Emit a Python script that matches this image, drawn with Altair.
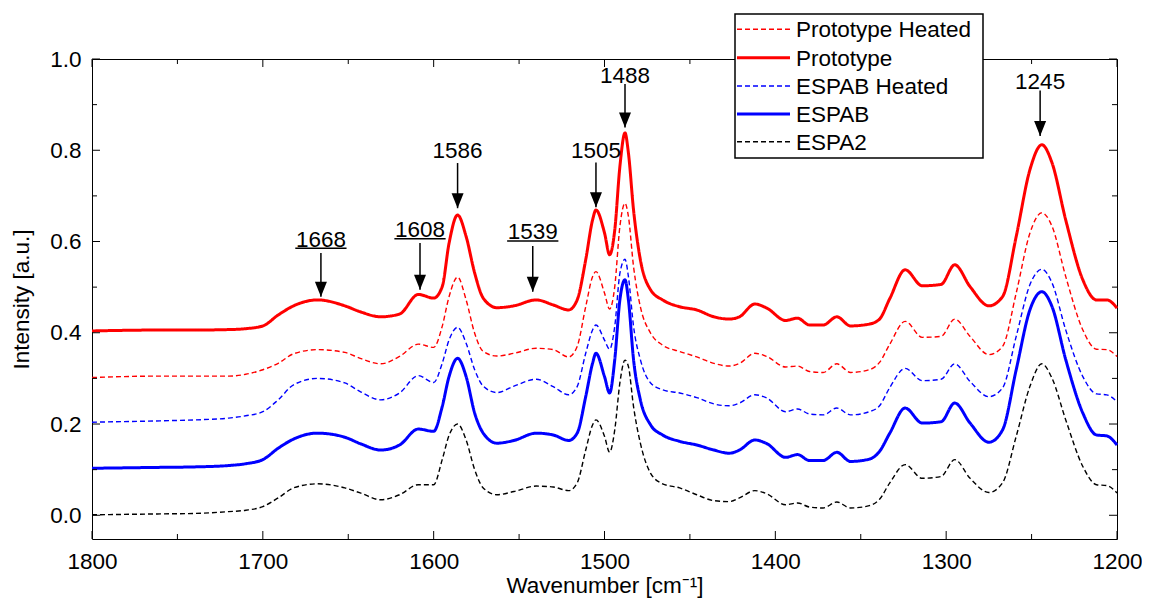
import altair as alt
import pandas as pd

# ---------------- data ----------------
wavenumber = [1800, 1760, 1740, 1720, 1710, 1700, 1691, 1682, 1668, 1652, 1643, 1631, 1620, 1609, 1600, 1595,
              1591, 1586, 1581, 1576, 1571, 1563, 1553, 1540, 1530, 1521,
              1516, 1511, 1507, 1505, 1500, 1497, 1494, 1491, 1488, 1486,
              1483, 1479, 1473, 1466, 1456, 1446, 1436, 1427, 1421, 1412,
              1405, 1394, 1387, 1380, 1372, 1364, 1356, 1345, 1339, 1333,
              1324, 1314, 1303, 1295, 1286, 1275, 1267, 1259, 1251, 1244,
              1238, 1230, 1220, 1212, 1206, 1200]

prototype_heated = [0.302, 0.305, 0.305, 0.305, 0.309, 0.319, 0.333, 0.354, 0.363, 0.357, 0.344, 0.332, 0.348, 0.375, 0.368, 0.414,
                    0.479, 0.522, 0.472, 0.399, 0.359, 0.349, 0.355, 0.366, 0.363, 0.347,
                    0.370, 0.457, 0.523, 0.534, 0.487, 0.452, 0.501, 0.633, 0.684, 0.655,
                    0.545, 0.457, 0.399, 0.373, 0.359, 0.347, 0.333, 0.327, 0.333, 0.355,
                    0.348, 0.325, 0.327, 0.315, 0.313, 0.332, 0.313, 0.319, 0.335, 0.375,
                    0.425, 0.390, 0.392, 0.430, 0.392, 0.352, 0.370, 0.487, 0.618, 0.663,
                    0.633, 0.523, 0.406, 0.364, 0.363, 0.348]

prototype = [0.404, 0.406, 0.406, 0.407, 0.409, 0.415, 0.439, 0.459, 0.472, 0.459, 0.446, 0.435, 0.441, 0.484, 0.476, 0.501,
             0.596, 0.658, 0.611, 0.531, 0.476, 0.455, 0.459, 0.472, 0.461, 0.450,
             0.472, 0.560, 0.647, 0.669, 0.619, 0.571, 0.625, 0.764, 0.838, 0.794,
             0.669, 0.560, 0.494, 0.472, 0.457, 0.450, 0.435, 0.430, 0.435, 0.463,
             0.454, 0.427, 0.432, 0.417, 0.417, 0.435, 0.415, 0.419, 0.430, 0.475,
             0.538, 0.503, 0.506, 0.549, 0.501, 0.459, 0.479, 0.611, 0.757, 0.812,
             0.772, 0.647, 0.516, 0.472, 0.472, 0.454]

espab_heated = [0.204, 0.207, 0.209, 0.213, 0.218, 0.227, 0.253, 0.286, 0.300, 0.290, 0.271, 0.253, 0.268, 0.306, 0.291, 0.333,
                0.384, 0.412, 0.377, 0.319, 0.283, 0.269, 0.283, 0.298, 0.282, 0.264,
                0.282, 0.355, 0.406, 0.417, 0.384, 0.364, 0.414, 0.530, 0.561, 0.523,
                0.414, 0.341, 0.290, 0.275, 0.268, 0.258, 0.244, 0.240, 0.246, 0.264,
                0.257, 0.227, 0.233, 0.222, 0.220, 0.235, 0.220, 0.227, 0.240, 0.280,
                0.322, 0.295, 0.298, 0.332, 0.293, 0.260, 0.279, 0.392, 0.505, 0.539,
                0.509, 0.406, 0.304, 0.266, 0.264, 0.249]

espab = [0.103, 0.105, 0.106, 0.109, 0.113, 0.122, 0.147, 0.167, 0.180, 0.171, 0.157, 0.143, 0.154, 0.189, 0.184, 0.238,
         0.304, 0.344, 0.304, 0.224, 0.180, 0.158, 0.164, 0.180, 0.176, 0.164,
         0.180, 0.260, 0.333, 0.355, 0.304, 0.268, 0.341, 0.472, 0.516, 0.472,
         0.341, 0.253, 0.198, 0.176, 0.162, 0.154, 0.143, 0.136, 0.143, 0.165,
         0.157, 0.127, 0.133, 0.120, 0.120, 0.138, 0.118, 0.123, 0.140, 0.180,
         0.235, 0.202, 0.205, 0.246, 0.202, 0.160, 0.187, 0.319, 0.450, 0.490,
         0.457, 0.341, 0.224, 0.176, 0.174, 0.154]

espa2 = [0.001, 0.003, 0.004, 0.008, 0.011, 0.019, 0.038, 0.060, 0.069, 0.060, 0.049, 0.034, 0.045, 0.067, 0.067, 0.122,
         0.175, 0.200, 0.165, 0.100, 0.060, 0.045, 0.052, 0.064, 0.062, 0.054,
         0.071, 0.143, 0.198, 0.209, 0.173, 0.138, 0.187, 0.290, 0.340, 0.326,
         0.238, 0.158, 0.092, 0.069, 0.060, 0.045, 0.032, 0.030, 0.038, 0.054,
         0.047, 0.023, 0.027, 0.018, 0.016, 0.029, 0.016, 0.021, 0.035, 0.071,
         0.111, 0.081, 0.085, 0.122, 0.081, 0.050, 0.071, 0.173, 0.282, 0.332,
         0.300, 0.209, 0.107, 0.067, 0.065, 0.049]

series_names = ["Prototype Heated", "Prototype", "ESPAB Heated", "ESPAB", "ESPA2"]
series_values = [prototype_heated, prototype, espab_heated, espab, espa2]

# peak annotations
ann_label = ["1668", "1608", "1539", "1586", "1505", "1488", "1245"]
ann_x = [1666, 1608, 1542, 1586, 1505, 1488, 1245]
ann_text_y = [0.589, 0.610, 0.605, 0.782, 0.782, 0.947, 0.934]
ann_shaft_top = [0.575, 0.597, 0.590, 0.772, 0.773, 0.945, 0.931]
ann_tip_y = [0.479, 0.494, 0.490, 0.673, 0.675, 0.850, 0.831]
ann_underline = [True, True, True, False, False, False, False]

# axis ticks
x_major = [1800, 1700, 1600, 1500, 1400, 1300, 1200]
x_minor = [1750, 1650, 1550, 1450, 1350, 1250]
y_major = [0.0, 0.2, 0.4, 0.6, 0.8, 1.0]
y_minor = [0.1, 0.3, 0.5, 0.7, 0.9]

# ---------------- styles ----------------
colors = ["#ff0000", "#ff0000", "#0000ff", "#0000ff", "#000000"]
dashes = [[5, 3], [1, 0], [5, 3], [1, 0], [5, 3]]
widths = [1.4, 3.0, 1.4, 3.0, 1.4]
FONT = "Liberation Sans"
FS = 22.5
W, H = 1025, 480
PAD_L = 84

rows = []
for name, vals in zip(series_names, series_values):
    for wn, v in zip(wavenumber, vals):
        rows.append({"wn": wn, "value": v, "series": name})
df = pd.DataFrame(rows)

x_scale = alt.Scale(domain=[1200, 1800], reverse=True, nice=False, zero=False)
y_scale = alt.Scale(domain=[-0.052, 1.0], nice=False, zero=False)

x_axis = alt.Axis(values=x_major, format="d", ticks=False, domain=False, grid=False,
                  labelFontSize=FS, labelFont=FONT, labelPadding=11, labelFlush=False,
                  labelColor="black", title="Wavenumber [cm⁻¹]", titleFontSize=FS,
                  titleFont=FONT, titleFontWeight="normal", titlePadding=2, titleColor="black")
y_axis = alt.Axis(values=y_major, format=".1f", ticks=False, domain=False, grid=False,
                  labelFontSize=FS, labelFont=FONT, labelPadding=11, labelColor="black",
                  title="Intensity [a.u.]", titleFontSize=FS, titleFont=FONT,
                  titleFontWeight="normal", titlePadding=16, titleColor="black")


def X(field):
    return alt.X(field, scale=x_scale, axis=x_axis)


def Y(field):
    return alt.Y(field, scale=y_scale, axis=y_axis)


lines = alt.Chart(df).mark_line(interpolate="monotone").encode(
    x=X("wn:Q"),
    y=Y("value:Q"),
    color=alt.Color("series:N", scale=alt.Scale(domain=series_names, range=colors), legend=None),
    strokeDash=alt.StrokeDash("series:N", scale=alt.Scale(domain=series_names, range=dashes), legend=None),
    strokeWidth=alt.StrokeWidth("series:N", scale=alt.Scale(type="ordinal", domain=series_names, range=widths),
                                legend=None),
)


def xticks(vals, length, top):
    d = pd.DataFrame({"wn": vals})
    y0 = 0 if top else H
    y1 = length if top else H - length
    return alt.Chart(d).mark_rule(color="black", strokeWidth=1).encode(
        x=X("wn:Q"), y=alt.value(y0), y2=alt.value(y1))


def yticks(vals, length, right):
    d = pd.DataFrame({"value": vals})
    x0 = W if right else 0
    x1 = W - length if right else length
    return alt.Chart(d).mark_rule(color="black", strokeWidth=1).encode(
        y=Y("value:Q"), x=alt.value(x0), x2=alt.value(x1))


ticks = [
    xticks(x_major, 8, False), xticks(x_minor, 5, False),
    xticks(x_major, 8, True), xticks(x_minor, 5, True),
    yticks(y_major, 8, False), yticks(y_minor, 5, False),
    yticks(y_major, 8, True), yticks(y_minor, 5, True),
]

ann = pd.DataFrame({
    "label": ann_label, "wn": ann_x, "text_y": ann_text_y,
    "shaft_top": ann_shaft_top, "tip_y": ann_tip_y, "underline": ann_underline,
})
ann["ul_y"] = ann["text_y"] - 0.004
ann["ul_x1"] = ann["wn"] + 15
ann["ul_x2"] = ann["wn"] - 15

ann_text = alt.Chart(ann).mark_text(fontSize=FS, font=FONT, align="center", baseline="alphabetic",
                                    color="black").encode(
    x=X("wn:Q"), y=Y("text_y:Q"), text="label:N")

ann_shaft = alt.Chart(ann).mark_rule(color="black", strokeWidth=1.5).encode(
    x=X("wn:Q"), y=Y("shaft_top:Q"), y2="tip_y:Q")

ann_head = alt.Chart(ann).mark_point(shape="M-0.8,-2L0.8,-2L0,0Z", filled=True, size=225,
                                     color="black", opacity=1, strokeWidth=0).encode(
    x=X("wn:Q"), y=Y("tip_y:Q"))

ann_ul = alt.Chart(ann).transform_filter("datum.underline").mark_rule(color="black", strokeWidth=1.5).encode(
    x=X("ul_x1:Q"), x2="ul_x2:Q", y=Y("ul_y:Q"))

# ---------------- legend box (drawn as a guide, in pixel space) ----------------
LEG_X0, LEG_X1, LEG_Y0, LEG_Y1 = 643, 891, -45, 99
leg_rows = [-29.7, -1.3, 27.0, 55.0, 82.7]
leg_df = pd.DataFrame({"series": series_names})

legend_layers = [
    alt.Chart(leg_df.head(1)).mark_rect(fill="white", stroke="black", strokeWidth=1.5).encode(
        x=alt.value(LEG_X0), x2=alt.value(LEG_X1), y=alt.value(LEG_Y0), y2=alt.value(LEG_Y1))
]
for i, name in enumerate(series_names):
    one = leg_df[leg_df["series"] == name]
    legend_layers.append(
        alt.Chart(one).mark_rule(color=colors[i], strokeDash=dashes[i], strokeWidth=widths[i]).encode(
            x=alt.value(LEG_X0 + 2), x2=alt.value(LEG_X0 + 55), y=alt.value(leg_rows[i]))
    )
    legend_layers.append(
        alt.Chart(one).mark_text(fontSize=FS, font=FONT, align="left", baseline="alphabetic",
                                 color="black").encode(
            x=alt.value(LEG_X0 + 61), y=alt.value(leg_rows[i] + 8), text="series:N")
    )

chart = alt.layer(lines, *ticks, ann_shaft, ann_head, ann_ul, ann_text, *legend_layers).properties(
    width=W, height=H,
    autosize=alt.AutoSizeParams(type="none"),
    padding={"left": PAD_L, "top": 51, "right": 25, "bottom": 62},
).configure(font=FONT).configure_view(stroke="black", strokeWidth=1)

chart.save("out.html", embed_options={"renderer": "svg", "actions": False})
